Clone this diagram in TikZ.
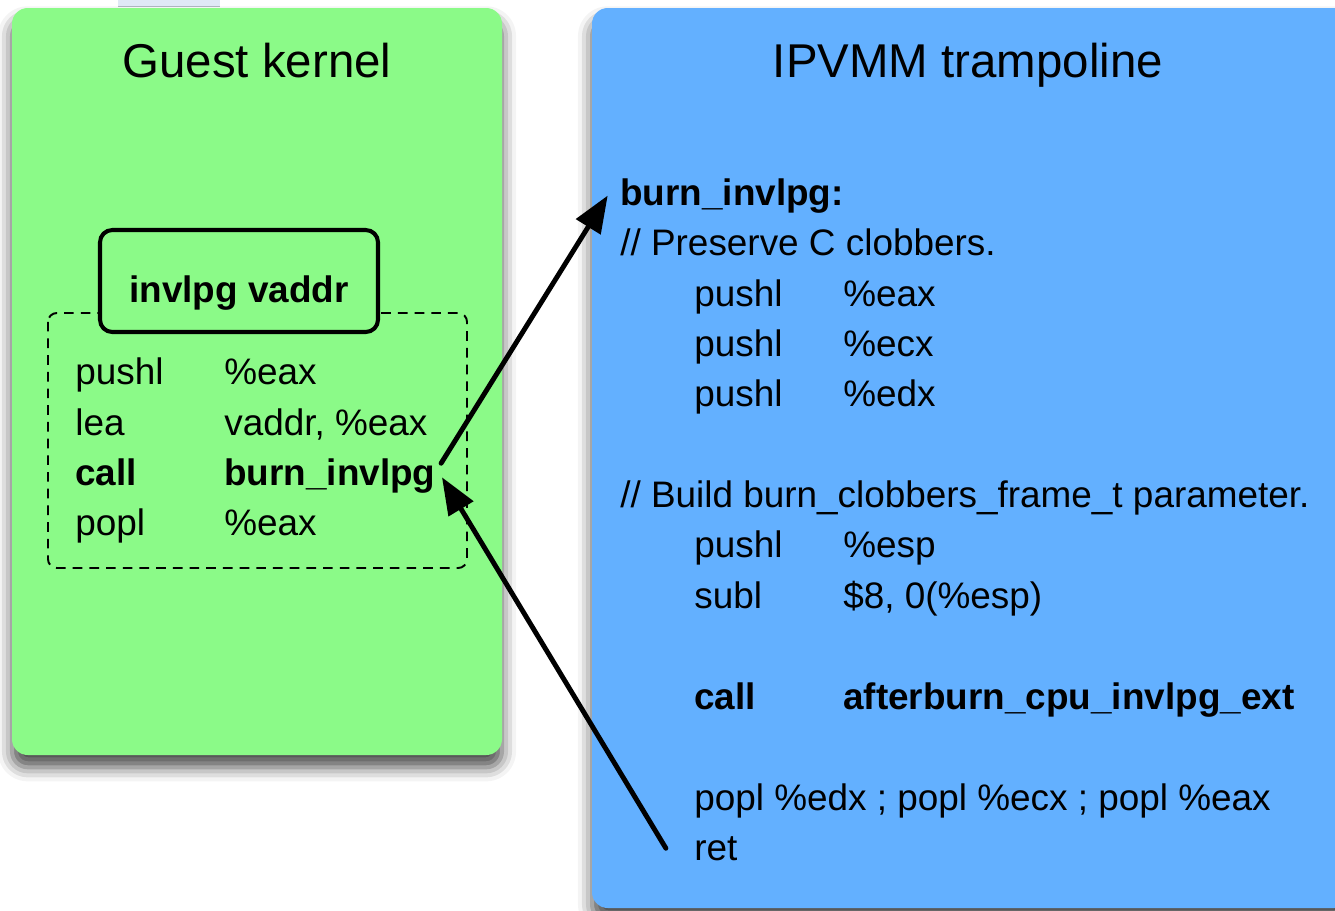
\documentclass[tikz,border=0pt]{standalone}
\usepackage{fontspec}
\setmainfont{Liberation Sans}
\usetikzlibrary{arrows.meta, shadows.blur, positioning}
\definecolor{guestgreen}{RGB}{139,250,136}
\definecolor{trampblue}{RGB}{99,176,255}
\definecolor{tabblue}{RGB}{224,232,246}

\begin{document}
\begin{tikzpicture}[x=0.02cm, y=-0.02cm,
    title/.style={anchor=base, font=\fontsize{27}{32}\selectfont, inner sep=0pt},
    code/.style={anchor=base west, font=\fontsize{21}{25}\selectfont, inner sep=0pt},
    boldcode/.style={code, font=\fontsize{21}{25}\selectfont\bfseries},
    panel/.style={rounded corners=9, blur shadow={shadow xshift=0pt, shadow yshift=-7pt, shadow blur radius=8pt, shadow opacity=70}},
    jump/.style={line width=2.8pt, line cap=round, -{Triangle[length=21pt, width=16pt, fill=black]}}]
    % Background
    \useasboundingbox (0,0) rectangle (1335,910);
    \clip (0,0) rectangle (1335,910);
    \fill[tabblue] (118,0) rectangle (220,7);
    \fill[guestgreen, panel] (12,8) rectangle (502,755);
    \fill[trampblue, panel] (592,8) rectangle (1350,908);

    % Guest kernel
    \node[title] (gtitle) at (257,77) {Guest kernel};
    \draw[dash pattern=on 5.5pt off 4pt, line width=1.1pt, rounded corners=5] (48,313) rectangle (467,568);
    \draw[line width=2.3pt, rounded corners=7, fill=guestgreen] (100,230) rectangle (378,332);
    \node[boldcode, anchor=base] (ginvlpg) at (239,302) {invlpg vaddr};

    \node[code] (gpush) at (75,384) {pushl};
    \node[code] (gpushreg) at (224,384) {\%eax};
    \node[code] (glea) at (75,435) {lea};
    \node[code] (glearg) at (224,435) {vaddr, \%eax};
    \node[boldcode] (gcall) at (75,485) {call};
    \node[boldcode] (gtarget) at (224,485) {burn\_invlpg};
    \node[code] (gpop) at (75,535) {popl};
    \node[code] (gpopreg) at (224,535) {\%eax};

    % IPVMM trampoline
    \node[title] (ttitle) at (968,77) {IPVMM trampoline};
    \node[boldcode] (tlabel) at (620,205) {burn\_invlpg:};
    \node[code] (tnote) at (620,255) {// Preserve C clobbers.};
    \node[code] (tpusha) at (694,306) {pushl};
    \node[code] (tpushareg) at (843,306) {\%eax};
    \node[code] (tpushc) at (694,356) {pushl};
    \node[code] (tpushcreg) at (843,356) {\%ecx};
    \node[code] (tpushd) at (694,406) {pushl};
    \node[code] (tpushdreg) at (843,406) {\%edx};
    \node[code] (tbuild) at (620,507) {// Build burn\_clobbers\_frame\_t parameter.};
    \node[code] (tpushesp) at (694,557) {pushl};
    \node[code] (tpushespreg) at (843,557) {\%esp};
    \node[code] (tsub) at (694,608) {subl};
    \node[code] (tsubarg) at (843,608) {\$8, 0(\%esp)};
    \node[boldcode] (tcall) at (694,709) {call};
    \node[boldcode] (tcalltarget) at (843,709) {afterburn\_cpu\_invlpg\_ext};
    \node[code] (tpops) at (694,810) {popl \%edx ; popl \%ecx ; popl \%eax};
    \node[code] (tret) at (694,860) {ret};

    % Call and return
    \draw[jump] ([xshift=3pt, yshift=7pt]gtarget.east) -- ([xshift=-7pt]tlabel.west);
    \draw[jump] ([xshift=-16pt]tret.west) -- ([xshift=3.5pt, yshift=-1pt]gtarget.east);
\end{tikzpicture}
\end{document}
